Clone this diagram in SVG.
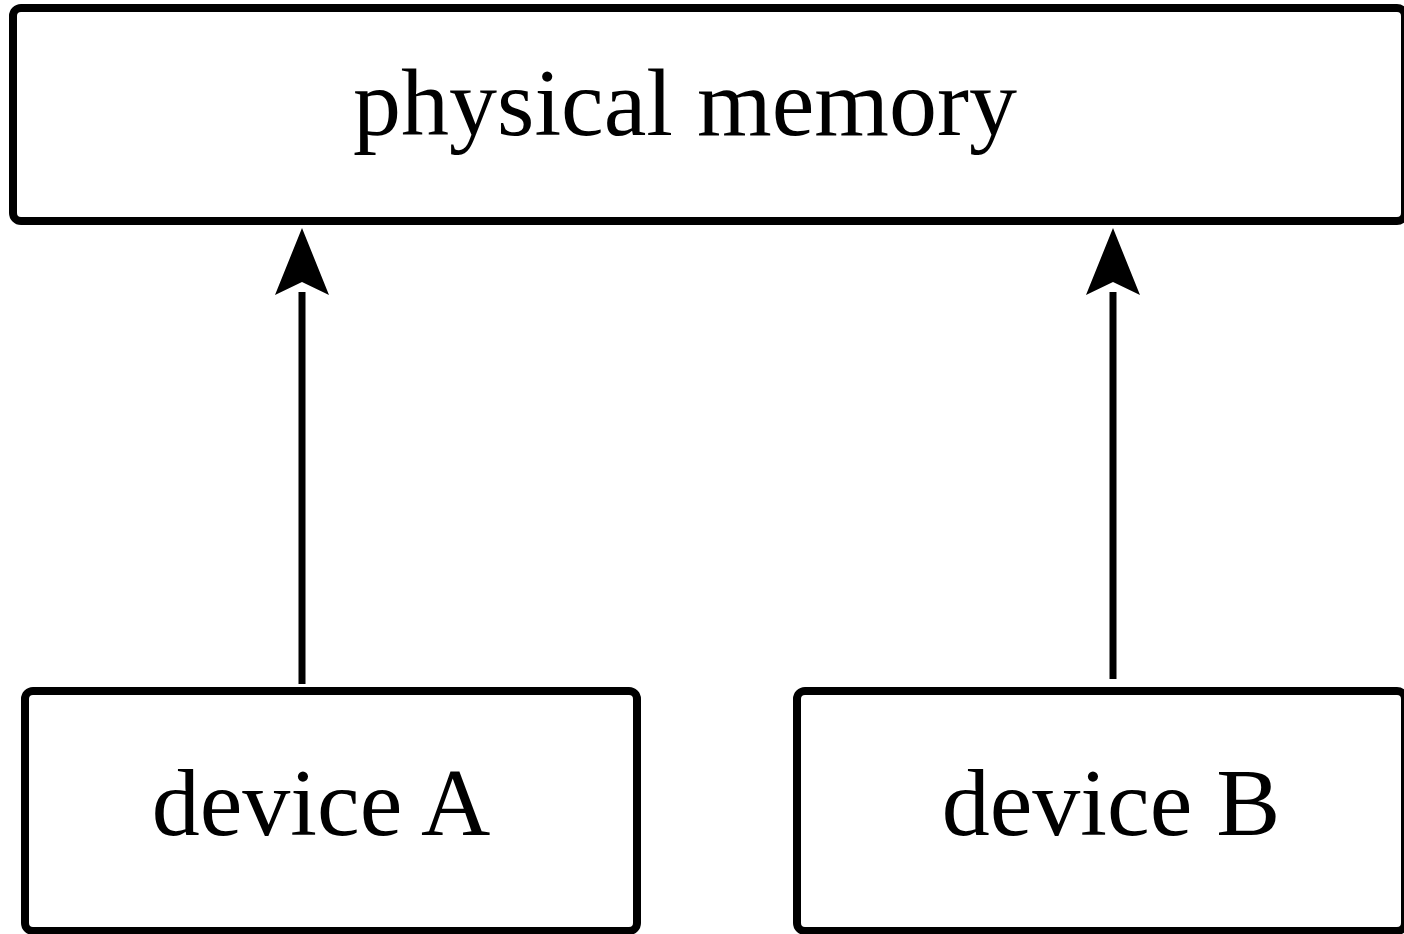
<svg xmlns="http://www.w3.org/2000/svg" width="1404" height="934" viewBox="0 0 1404 934">
  <style>
    .box { fill: #ffffff; stroke: #000000; stroke-width: 8; }
    .label { font-family: "Liberation Serif", "Times New Roman", serif; font-size: 96px; fill: #000000; text-anchor: middle; }
    .link { stroke: #000000; stroke-width: 7; fill: none; }
    .head { fill: #000000; }
  </style>
  <rect width="1404" height="934" fill="#ffffff"/>

  <g id="physical-memory">
    <rect class="box" x="13" y="8" width="1392" height="213" rx="8" ry="8"/>
    <text class="label" x="685" y="135">physical memory</text>
  </g>

  <g id="device-a">
    <rect class="box" x="25" y="691" width="612" height="240" rx="8" ry="8"/>
    <text class="label" x="321" y="835">device A</text>
  </g>

  <g id="device-b">
    <rect class="box" x="797" y="691" width="608" height="240" rx="8" ry="8"/>
    <text class="label" x="1111" y="835">device B</text>
  </g>

  <g id="connectors">
    <path d="M302,292 L302,684" class="link"/>
    <path d="M302,228 L329,295 L302,282 L275,295 Z" class="head"/>
    <path d="M1113,292 L1113,679" class="link"/>
    <path d="M1113,228 L1140,295 L1113,282 L1086,295 Z" class="head"/>
  </g>
</svg>
